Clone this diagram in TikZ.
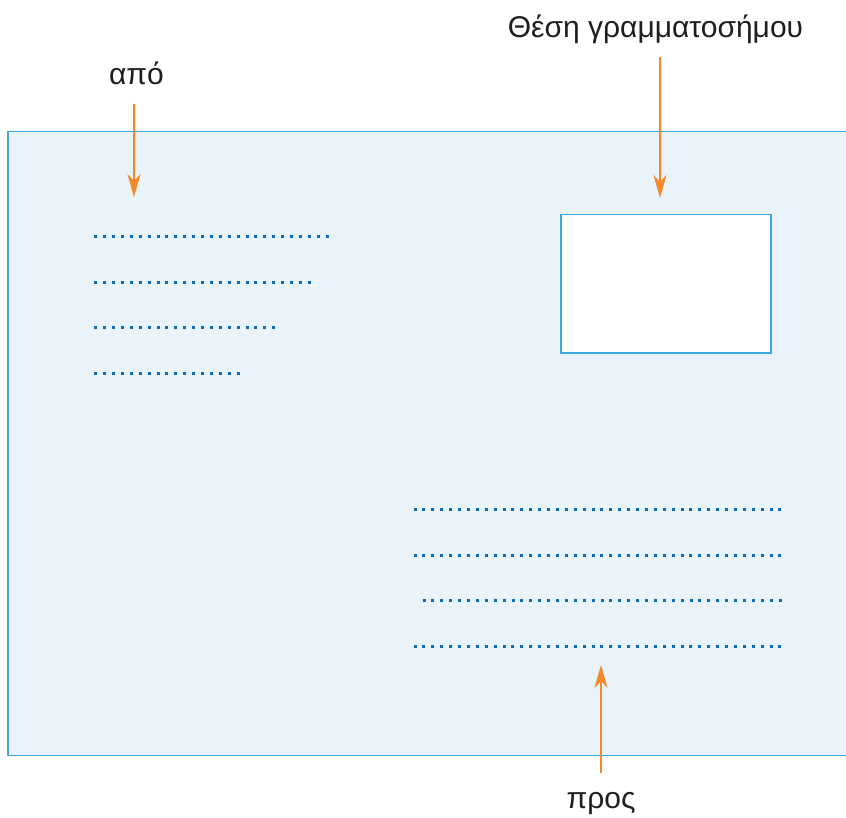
\documentclass[tikz,border=0pt]{standalone}
\usepackage{fontspec}
\setmainfont{Liberation Sans}
\usetikzlibrary{arrows.meta}
\definecolor{envfill}{HTML}{EAF2FA}
\definecolor{envline}{HTML}{3AA8E4}
\definecolor{dotblue}{HTML}{0B6CB8}
\definecolor{arrorange}{HTML}{F5892A}
\definecolor{txt}{HTML}{1E1E1E}
\tikzset{
  envelope/.style={fill=envfill, draw=envline, line width=1.6pt},
  stampbox/.style={fill=white, draw=envline, line width=1.5pt},
  dotline/.style={draw=dotblue, line width=3pt, dash pattern=on 3pt off 5.9pt},
  label/.style={text=txt, font=\fontsize{30}{33}\selectfont, inner sep=0pt, anchor=base},
  pointer/.style={draw=arrorange, line width=1.4pt, -{Stealth[length=23pt, width=13pt, inset=7pt]}},
}
\newcommand{\dotrow}[3]{\path[dotline] ({#1-1.5},#2) -- ({#1+(#3-1)*8.9+1.5},#2);}
\begin{document}
\begin{tikzpicture}[x=1pt,y=-1pt]
\useasboundingbox (0,0) rectangle (846,818);
\fill[white] (0,0) rectangle (846,818);
% envelope
\path[envelope] (8,131.5) rectangle (860,755.5);
% stamp box
\node[stampbox, minimum width=210pt, minimum height=138pt, inner sep=0pt, anchor=north west] (stamp) at (560.3,214) {};
% dotted lines (sender)
\dotrow{95.7}{237}{27}
\dotrow{95.7}{283}{25}
\dotrow{95.7}{328}{21}
\dotrow{95.7}{373}{17}
% dotted lines (recipient)
\dotrow{415}{509}{42}
\dotrow{415}{555}{42}
\dotrow{424}{600}{41}
\dotrow{415}{646}{42}
% labels
\node[label] (from) at (136.5,85) {από};
\node[label] (stamplabel) at (655.5,38) {Θέση γραμματοσήμου};
\node[label] (to) at (601,808) {προς};
% pointer coordinates
\coordinate (fromA) at (134,104);
\coordinate (fromB) at (134,197);
\coordinate (stampA) at (660,57);
\coordinate (stampB) at (660,198);
\coordinate (toA) at (601,773);
\coordinate (toB) at (601,665);
\draw[pointer] (fromA) -- (fromB);
\draw[pointer] (stampA) -- (stampB);
\draw[pointer] (toA) -- (toB);
\end{tikzpicture}
\end{document}
